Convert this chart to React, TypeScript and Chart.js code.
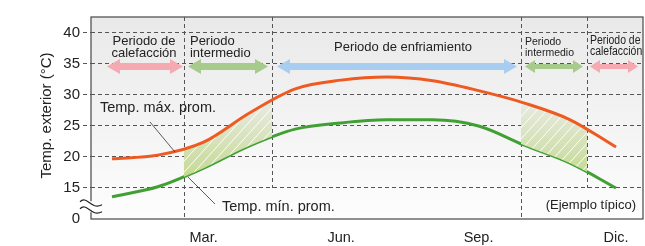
import React, { useEffect, useRef } from "react";
import { Chart, registerables } from "chart.js";

Chart.register(...registerables);

// ---- data ----
const months = [1, 2, 3, 4, 5, 6, 7, 8, 9, 10, 11, 12];
const maxTemp = [19.7, 20.3, 22.4, 27.1, 31.0, 32.4, 32.9, 32.3, 30.7, 28.7, 26.0, 21.6];
const minTemp = [13.6, 15.2, 18.2, 21.8, 24.5, 25.5, 26.0, 26.0, 25.0, 21.9, 19.0, 15.0];
const xTickValues = [3, 6, 9, 12];
const xTickLabels = ["Mar.", "Jun.", "Sep.", "Dic."];
const yTickValues = [10, 15, 20, 25, 30, 35, 40];
const yTickLabels = ["0", "15", "20", "25", "30", "35", "40"];
const seriesLabels = ["Temp. máx. prom.", "Temp. mín. prom."];
const periodBounds = [2.571, 4.492, 9.926, 11.367];
const periodStarts = [0.891, 2.659, 4.601, 10.013, 11.432];
const periodEnds = [2.55, 4.405, 9.839, 11.279, 12.48];
const periodNames = [
  "Periodo de\ncalefacción",
  "Periodo\nintermedio",
  "Periodo de enfriamiento",
  "Periodo\nintermedio",
  "Periodo de\ncalefacción",
];
const transitionStarts = [2.571, 9.926];
const transitionEnds = [4.492, 11.367];
const noteText = "(Ejemplo típico)";
const yTitle = "Temp. exterior (°C)";

const FONT = "'Liberation Sans', Arial, Helvetica, sans-serif";
const TEXT = "#222";
const periodColors = ["#f5aab2", "#a7ca8d", "#a9cdf0", "#a7ca8d", "#f5aab2"];

function hatchFill(chart: any) {
  const { chartArea, scales } = chart;
  if (!chartArea || !scales.x || !scales.y) return "rgba(0,0,0,0)";
  const c = document.createElement("canvas");
  c.width = chart.width;
  c.height = chart.height;
  const g = c.getContext("2d")!;
  const top = chartArea.top;
  const bottom = chartArea.bottom;
  transitionStarts.forEach((a, i) => {
    const x0 = scales.x.getPixelForValue(a);
    const x1 = scales.x.getPixelForValue(transitionEnds[i]);
    const grad = g.createLinearGradient(0, scales.y.getPixelForValue(30), 0, scales.y.getPixelForValue(16.5));
    grad.addColorStop(0, "#ececea");
    grad.addColorStop(1, "#c4d990");
    g.fillStyle = grad;
    g.fillRect(x0, top, x1 - x0, bottom - top);
    g.save();
    g.beginPath();
    g.rect(x0, top, x1 - x0, bottom - top);
    g.clip();
    g.strokeStyle = "rgba(255,255,255,0.95)";
    g.lineWidth = 1;
    const h = bottom - top;
    for (let k = -h; k < x1 - x0 + h; k += 10) {
      g.beginPath();
      g.moveTo(x0 + k, bottom);
      g.lineTo(x0 + k + h * 0.9, bottom - h);
      g.stroke();
    }
    g.restore();
  });
  return chart.ctx.createPattern(c, "no-repeat");
}

const decorPlugin = {
  id: "decor",
  beforeDraw(chart: any) {
    const { ctx, chartArea: a } = chart;
    const grad = ctx.createLinearGradient(0, a.top, 0, a.bottom);
    grad.addColorStop(0, "#e9e9e9");
    grad.addColorStop(1, "#fdfdfd");
    ctx.save();
    ctx.fillStyle = grad;
    ctx.fillRect(a.left, a.top, a.right - a.left, a.bottom - a.top);
    ctx.restore();
  },
  beforeDatasetsDraw(chart: any) {
    const { ctx, chartArea: a, scales } = chart;
    ctx.save();
    ctx.strokeStyle = "#555";
    ctx.lineWidth = 1;
    ctx.setLineDash([4, 3]);
    periodBounds.forEach((b, i) => {
      const x = Math.round(scales.x.getPixelForValue(b)) + 0.5;
      const yEnd = i === 1 || i === 3 ? scales.y.getPixelForValue(15) : a.bottom;
      ctx.beginPath();
      ctx.moveTo(x, a.top);
      ctx.lineTo(x, yEnd);
      ctx.stroke();
    });
    ctx.restore();
  },
  afterDraw(chart: any) {
    const { ctx, chartArea: a, scales } = chart;
    const px = (m: number) => scales.x.getPixelForValue(m);
    const py = (v: number) => scales.y.getPixelForValue(v);
    ctx.save();

    // frame
    ctx.strokeStyle = "#555";
    ctx.lineWidth = 1.3;
    ctx.setLineDash([]);
    ctx.strokeRect(a.left, a.top, a.right - a.left, a.bottom - a.top);

    // axis break symbol
    const bx = a.left - 10;
    const by = py(11.9);
    ctx.fillStyle = "#fff";
    ctx.fillRect(bx, by - 6, 20, 11);
    ctx.strokeStyle = "#222";
    ctx.lineWidth = 1.2;
    [-3.5, 3.5].forEach((o) => {
      ctx.beginPath();
      ctx.moveTo(bx - 1, by + o - 2);
      ctx.bezierCurveTo(bx + 6, by + o - 9, bx + 10, by + o + 7, bx + 21, by + o + 1);
      ctx.stroke();
    });

    // period arrows
    const yc = py(35) + 2.5;
    periodStarts.forEach((s, i) => {
      const x0 = px(s);
      const x1 = px(periodEnds[i]);
      const small = i >= 3;
      const hh = small ? 6.5 : 7.5;
      const sh = small ? 2.5 : 3.5;
      const hl = small ? 10 : 13;
      ctx.fillStyle = periodColors[i];
      ctx.beginPath();
      ctx.moveTo(x0, yc);
      ctx.lineTo(x0 + hl, yc - hh);
      ctx.lineTo(x0 + hl, yc - sh);
      ctx.lineTo(x1 - hl, yc - sh);
      ctx.lineTo(x1 - hl, yc - hh);
      ctx.lineTo(x1, yc);
      ctx.lineTo(x1 - hl, yc + hh);
      ctx.lineTo(x1 - hl, yc + sh);
      ctx.lineTo(x0 + hl, yc + sh);
      ctx.lineTo(x0 + hl, yc + hh);
      ctx.closePath();
      ctx.fill();
    });

    // period labels
    const specs = [
      { m: 1.698, v: [38.71, 36.77], align: "center", size: 13, sx: 1 },
      { m: 2.702, v: [38.71, 36.77], align: "left", size: 13, sx: 1 },
      { m: 7.351, v: [37.74], align: "center", size: 13, sx: 1 },
      { m: 10.013, v: [38.6, 36.82], align: "left", size: 10.5, sx: 1 },
      { m: 11.432, v: [38.76, 36.98], align: "left", size: 12, sx: 0.87 },
    ];
    ctx.fillStyle = TEXT;
    ctx.textBaseline = "middle";
    periodNames.forEach((name, i) => {
      const sp = specs[i];
      const lines = name.split("\n");
      ctx.font = `${sp.size}px ${FONT}`;
      ctx.textAlign = sp.align as CanvasTextAlign;
      lines.forEach((ln, j) => {
        ctx.save();
        ctx.translate(px(sp.m), py(sp.v[j]));
        ctx.scale(sp.sx, 1);
        ctx.fillText(ln, 0, 0);
        ctx.restore();
      });
    });

    // series labels + leader lines
    ctx.font = `14.5px ${FONT}`;
    ctx.textAlign = "left";
    ctx.fillText(seriesLabels[0], px(0.738), py(27.9));
    ctx.fillText(seriesLabels[1], px(3.4), py(11.94));
    ctx.strokeStyle = "#333";
    ctx.lineWidth = 0.8;
    ctx.beginPath();
    ctx.moveTo(px(1.829), py(25.65));
    ctx.lineTo(px(2.375), py(20.8));
    ctx.moveTo(px(2.659), py(16.77));
    ctx.lineTo(px(3.248), py(12.42));
    ctx.stroke();

    // note
    ctx.font = `13px ${FONT}`;
    ctx.textAlign = "right";
    ctx.fillText(noteText, a.right - 7, py(12.26));

    // y title
    ctx.save();
    ctx.translate(47, py(26.7));
    ctx.rotate(-Math.PI / 2);
    ctx.textAlign = "center";
    ctx.font = `15px ${FONT}`;
    ctx.fillText(yTitle, 0, 0);
    ctx.restore();

    ctx.restore();
  },
};

export default function App() {
  const ref = useRef<HTMLCanvasElement>(null);
  useEffect(() => {
    if (!ref.current) return;
    const hide = (c: any) => (c.tick && c.tick.value === 10 ? "rgba(0,0,0,0)" : "#555");
    const chart = new Chart(ref.current, {
      type: "line",
      data: {
        datasets: [
          {
            label: seriesLabels[0],
            data: months.map((m, i) => ({ x: m, y: maxTemp[i] })),
            borderColor: "#ee5a21",
            borderWidth: 3,
            pointRadius: 0,
            cubicInterpolationMode: "monotone",
            borderCapStyle: "butt",
            fill: "+1",
            backgroundColor: (ctx: any) => hatchFill(ctx.chart),
          },
          {
            label: seriesLabels[1],
            data: months.map((m, i) => ({ x: m, y: minTemp[i] })),
            borderColor: "#41a033",
            borderWidth: 3,
            pointRadius: 0,
            cubicInterpolationMode: "monotone",
            borderCapStyle: "butt",
            fill: false,
          },
        ],
      },
      options: {
        animation: false,
        responsive: false,
        layout: { padding: { left: 0, right: 2, top: 17, bottom: 0 } },
        plugins: { legend: { display: false }, tooltip: { enabled: false }, title: { display: false } },
        scales: {
          x: {
            type: "linear",
            min: 0.542,
            max: 12.589,
            afterBuildTicks: (s: any) => {
              s.ticks = xTickValues.map((v) => ({ value: v }));
            },
            afterFit: (s: any) => {
              s.height = 27;
            },
            grid: { display: false, drawTicks: false },
            border: { display: false },
            ticks: {
              padding: 10,
              maxRotation: 0,
              autoSkip: false,
              color: TEXT,
              font: { family: FONT, size: 14.5 },
              callback: (v: any) => {
                const i = xTickValues.indexOf(Number(v));
                return i >= 0 ? xTickLabels[i] : "";
              },
            },
          },
          y: {
            type: "linear",
            min: 10,
            max: 42.58,
            afterBuildTicks: (s: any) => {
              s.ticks = yTickValues.map((v) => ({ value: v }));
            },
            afterFit: (s: any) => {
              s.width = 91;
            },
            border: { display: false, dash: [4, 3] },
            grid: {
              color: hide,
              tickColor: hide,
              lineWidth: 1,
              drawTicks: true,
              tickLength: 8,
              tickBorderDash: [4, 3],
            },
            ticks: {
              padding: 3,
              color: TEXT,
              font: { family: FONT, size: 15 },
              callback: (v: any) => {
                const i = yTickValues.indexOf(Number(v));
                return i >= 0 ? yTickLabels[i] : "";
              },
            },
          },
        },
      } as any,
      plugins: [decorPlugin],
    });
    return () => chart.destroy();
  }, []);
  return (
    <div style={{ position: "fixed", left: 0, top: 0, width: 645, height: 246, background: "#fff" }}>
      <canvas ref={ref} width={645} height={246} style={{ display: "block" }} />
    </div>
  );
}
